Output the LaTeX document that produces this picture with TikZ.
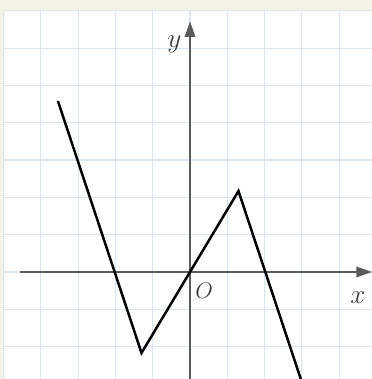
\documentclass[tikz,border=0pt]{standalone}
\usepackage{amsmath,amssymb}
\usepackage{xcolor}
\usepackage{tikz}
\usetikzlibrary{arrows.meta,calc}
\definecolor{gridblue}{RGB}{220,228,239}
\definecolor{papercream}{RGB}{244,244,230}
\definecolor{axisgray}{RGB}{90,90,90}
\definecolor{labelgray}{RGB}{60,60,60}

\begin{document}
\begin{tikzpicture}[>={Triangle[length=0.42cm,width=0.28cm]}]
    % 画布范围（与原图比例一致）
    \def\xmin{-5.094}
    \def\xmax{4.879}
    \def\ymin{-2.869}
    \def\ymax{7.292}
    \def\lw{1.9pt}    % 折线线宽

    % 米黄底色与白色方格纸
    \fill[papercream] (\xmin,\ymin) rectangle (\xmax,\ymax);
    \useasboundingbox (\xmin,\ymin) rectangle (\xmax,\ymax);
    \fill[white] (-5,\ymin) rectangle (\xmax,7);

    % 方格线（淡蓝色）
    \foreach \x in {-5,...,4} \draw[gridblue,line width=0.9pt] (\x,\ymin) -- (\x,7);
    \foreach \y in {-2,...,7} \draw[gridblue,line width=0.9pt] (-5,\y) -- (\xmax,\y);

    % 坐标轴
    \draw[->,axisgray,line width=1.5pt] (-4.56,0) -- (\xmax,0);
    \draw[->,axisgray,line width=1.5pt] (0,\ymin) -- (0,6.72);
    \node[text=labelgray,font=\fontsize{21}{21}\selectfont] (ylab) at (-0.42,6.1) {$y$};
    \node[text=labelgray,font=\fontsize{21}{21}\selectfont] (xlab) at (4.5,-0.7) {$x$};
    \node[text=labelgray,font=\fontsize{18}{18}\selectfont] (olab) at (0.38,-0.5) {$O$};

    % 折线的各个顶点
    \coordinate (A) at (-3.54,4.58);
    \coordinate (B) at (-1.3,-2.17);
    \coordinate (C) at (1.3,2.17);
    \coordinate (D) at (2.97,\ymin);

    % 函数图象
    \draw[line width=\lw,line join=miter] (A) -- (B) -- (C) -- (D);
\end{tikzpicture}
\end{document}
